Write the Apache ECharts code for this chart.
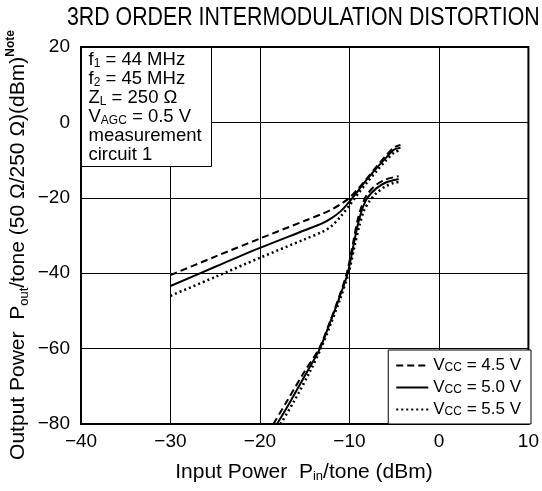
<!DOCTYPE html>
<html>
<head>
<meta charset="utf-8">
<script src="https://cdn.jsdelivr.net/npm/echarts@6/dist/echarts.min.js"></script>
<style>
html,body{margin:0;padding:0;background:#fff}
#chart{width:542px;height:491px}
</style>
</head>
<body>
<div id="chart"></div>
<script>
// axis ranges / ticks
var xMin = -40, xMax = 10, xStep = 10;
var yMin = -80, yMax = 20, yStep = 20;
var vccNames = ['4.5', '5.0', '5.5'];

// fundamental output (upper curves), [Pin, Pout]
var fund45 = [[-30,-40.5],[-25,-35.6],[-20,-30.8],[-15,-26.1],[-13,-24.2],[-12,-23.1],[-11,-21.7],[-10,-20],[-9,-17.5],[-8,-14.7],[-7,-11.8],[-6,-9],[-5,-6.6],[-4.3,-6]];
var fund50 = [[-30,-43.4],[-25,-38.3],[-20,-33.3],[-15,-28.6],[-13,-26.7],[-12,-25.4],[-11,-23.6],[-10,-21],[-9,-18],[-8,-15],[-7,-12.2],[-6,-9.6],[-5,-7.2],[-4.3,-6.7]];
var fund55 = [[-30,-46],[-25,-41],[-20,-35.9],[-15,-31],[-13,-29],[-12,-27.5],[-11,-25],[-10,-22],[-9,-18.8],[-8,-15.8],[-7,-13],[-6,-10.3],[-5,-8],[-4.3,-7.3]];

// 3rd order IM products (lower curves)
var im45 = [[-18.5,-80],[-17,-74],[-15,-66],[-13.4,-60],[-12.2,-53],[-11.2,-46.5],[-10.3,-40],[-9.6,-32],[-9.1,-26],[-8.6,-22],[-8,-19],[-7,-16.5],[-6,-15.2],[-5,-14.5],[-4.5,-14.3]];
var im50 = [[-18.1,-80],[-16.6,-74],[-14.7,-66],[-13.3,-60],[-12.2,-53.3],[-11.2,-47],[-10.2,-40],[-9.5,-32],[-9,-26.5],[-8.5,-22.5],[-8,-20],[-7,-17.5],[-6,-16],[-5,-15.3],[-4.5,-15]];
var im55 = [[-17.7,-80],[-16.2,-74],[-14.4,-66],[-13.2,-60],[-12.1,-53.5],[-11.1,-47.2],[-10.1,-40],[-9.4,-32.5],[-8.9,-27.5],[-8.4,-23.5],[-7.8,-21],[-7,-18.8],[-6,-17],[-5,-16],[-4.5,-15.8]];

var FONT = 'Liberation Sans, Arial, sans-serif';
var dashes = [[7,4], 'solid', [2,3]];

function minus(v){ return v < 0 ? '\u2212' + (-v) : '' + v; }

function mkLine(name, data, i){
    return {
        name: name,
        type: 'line',
        data: data,
        symbol: 'none',
        smooth: 0.3,
        lineStyle: { color: '#000', width: i == 2 ? 2.5 : 2, type: dashes[i] },
        itemStyle: { color: '#000' },
        z: 3
    };
}

var series = [
    mkLine(vccNames[0], fund45, 0),
    mkLine(vccNames[1], fund50, 1),
    mkLine(vccNames[2], fund55, 2),
    mkLine(vccNames[0], im45, 0),
    mkLine(vccNames[1], im50, 1),
    mkLine(vccNames[2], im55, 2)
];

var chart = echarts.init(document.getElementById('chart'));
var option = {
    animation: false,
    backgroundColor: '#fff',
    grid: { left: 81, right: 11, top: 47, bottom: 67, show: true, borderColor: '#000', borderWidth: 2 },
    xAxis: {
        type: 'value', min: xMin, max: xMax, interval: xStep,
        axisLine: { show: false }, axisTick: { show: false },
        splitLine: { show: true, lineStyle: { color: '#000', width: 1 } },
        axisLabel: { color: '#000', fontSize: 19, fontFamily: FONT, margin: 8, formatter: minus }
    },
    yAxis: {
        type: 'value', min: yMin, max: yMax, interval: yStep,
        axisLine: { show: false }, axisTick: { show: false },
        splitLine: { show: true, lineStyle: { color: '#000', width: 1 } },
        axisLabel: { color: '#000', fontSize: 19, fontFamily: FONT, margin: 11, formatter: minus }
    },
    legend: {
        data: vccNames,
        orient: 'vertical',
        right: 11, bottom: 67,
        itemWidth: 32, itemHeight: 14, itemGap: 5,
        padding: [7, 10, 6, 7],
        backgroundColor: '#fff',
        borderColor: '#000', borderWidth: 1,
        itemStyle: { opacity: 0 },
        z: 10,
        formatter: function(n){ return '{v|V}{s|CC}{v| = ' + n + ' V}'; },
        textStyle: {
            color: '#000', fontFamily: FONT, fontSize: 17,
            rich: {
                v: { fontSize: 17, fontFamily: FONT, color: '#000' },
                s: { fontSize: 12, fontFamily: FONT, color: '#000', verticalAlign: 'bottom' }
            }
        }
    },
    graphic: [
        {
            type: 'text', x: 67, y: 5, z: 10, scaleX: 0.82,
            style: { text: '3RD ORDER INTERMODULATION DISTORTION', fill: '#000',
                font: '26px "Liberation Sans", Arial, sans-serif' }
        },
        {
            type: 'group', left: 81, top: 47, z: 10,
            children: [
                { type: 'rect', z: 10, shape: { x: 0, y: 0, width: 130, height: 119 },
                  style: { fill: '#fff', stroke: '#000', lineWidth: 1 } },
                { type: 'text', z: 11, x: 7, y: 3,
                  style: {
                    text: 'f{s|1}{t| = 44 MHz}\nf{s|2}{t| = 45 MHz}\nZ{s|L}{t| = 250 \u03A9}\nV{s|AGC}{t| = 0.5 V}\nmeasurement\ncircuit 1',
                    fill: '#000', fontSize: 18.5, fontFamily: FONT, lineHeight: 19,
                    rich: {
                        s: { fontSize: 12, fontFamily: FONT, verticalAlign: 'bottom', lineHeight: 17 },
                        t: { fontSize: 18.5, fontFamily: FONT, lineHeight: 19 }
                    }
                  } }
            ]
        },
        {
            type: 'text', x: 304, y: 472, z: 10,
            style: {
                text: 'Input Power  P{s|in}{t|/tone (dBm)}',
                fill: '#000', fontSize: 21, fontFamily: FONT, align: 'center', verticalAlign: 'middle',
                rich: {
                    s: { fontSize: 13, fontFamily: FONT, verticalAlign: 'bottom', lineHeight: 20 },
                    t: { fontSize: 21, fontFamily: FONT, lineHeight: 22 }
                }
            }
        },
        {
            type: 'text', x: 18, y: 245, z: 10, rotation: Math.PI / 2,
            style: {
                text: 'Output Power  P{s|out}{t|/tone (50 \u03A9/250 \u03A9)(dBm)}{n|Note}',
                fill: '#000', fontSize: 21, fontFamily: FONT, align: 'center', verticalAlign: 'middle',
                rich: {
                    s: { fontSize: 13, fontFamily: FONT, verticalAlign: 'bottom', lineHeight: 20 },
                    t: { fontSize: 21, fontFamily: FONT, lineHeight: 22 },
                    n: { fontSize: 12, fontWeight: 'bold', fontFamily: FONT, verticalAlign: 'top', lineHeight: 26 }
                }
            }
        }
    ],
    series: series
};
chart.setOption(option);
</script>
</body>
</html>
